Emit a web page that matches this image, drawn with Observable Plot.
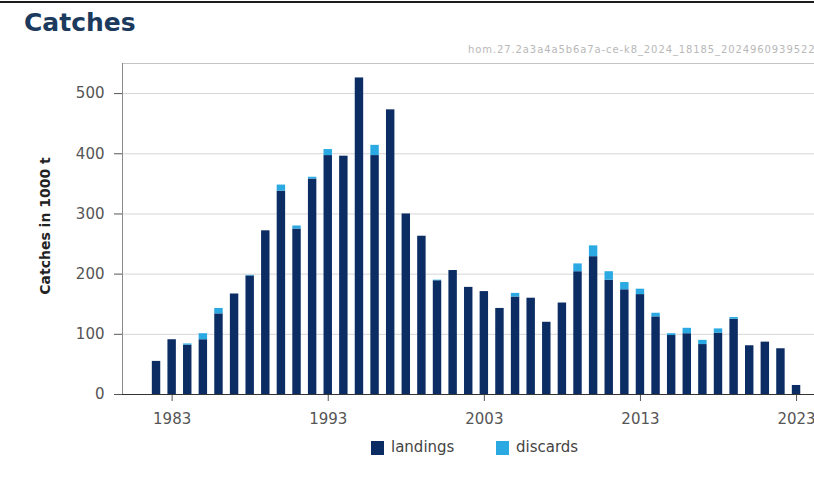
<!DOCTYPE html>
<html>
<head>
<meta charset="utf-8">
<script src="https://cdn.jsdelivr.net/npm/d3@7"></script>
<script src="https://cdn.jsdelivr.net/npm/@observablehq/plot@0.6"></script>
<style>
  html, body { margin: 0; padding: 0; background: #fff; width: 814px; height: 481px; overflow: hidden; }
  #wrap { position: relative; width: 814px; height: 481px; font-family: "DejaVu Sans", sans-serif; }
  .topline { position: absolute; left: 0; top: 1px; width: 814px; height: 2px; background: #1c1c1c; }
  .title { position: absolute; left: 24px; top: 8px; font: bold 25px "DejaVu Sans", sans-serif; color: #1b3a5e; }
  .meta { position: absolute; left: 468px; top: 44px; font-size: 10px; letter-spacing: 0.9px; color: #b8b8b8; white-space: nowrap; }
  #chart { position: absolute; left: 0; top: 0; }
  .ylab { position: absolute; left: 45px; top: 226px; transform: translate(-50%, -50%) rotate(-90deg);
          font: bold 14px "DejaVu Sans", sans-serif; color: #222; white-space: nowrap; }
  .legend { position: absolute; top: 441px; left: 0; font-size: 15px; color: #444; }
  .legend .sw { position: absolute; top: 0; width: 13px; height: 14px; }
  .legend .lt { position: absolute; top: -3px; white-space: nowrap; }
</style>
</head>
<body>
<div id="wrap">
  <div class="topline"></div>
  <div class="title">Catches</div>
  <div class="meta">hom.27.2a3a4a5b6a7a-ce-k8_2024_18185_2024960939522</div>
  <div id="chart"></div>
  <div class="ylab">Catches in 1000 t</div>
  <div class="legend" id="legend"></div>
</div>
<script>
// Annual catches (thousand tonnes), split into landings and discards
const years = [1982, 1983, 1984, 1985, 1986, 1987, 1988, 1989, 1990, 1991,
               1992, 1993, 1994, 1995, 1996, 1997, 1998, 1999, 2000, 2001,
               2002, 2003, 2004, 2005, 2006, 2007, 2008, 2009, 2010, 2011,
               2012, 2013, 2014, 2015, 2016, 2017, 2018, 2019, 2020, 2021,
               2022, 2023];
const landings = [55, 91, 82, 91, 134, 167, 197, 272, 338, 275,
                  358, 397, 396, 526, 397, 473, 300, 263, 189, 206,
                  178, 171, 143, 162, 160, 120, 152, 204, 229, 190,
                  174, 166, 129, 98, 101, 83, 102, 125, 81, 87,
                  76, 15];
const discards = [0, 0, 2, 10, 9, 0, 1, 0, 10, 5,
                  3, 10, 0, 0, 17, 0, 0, 0, 1, 0,
                  0, 0, 0, 6, 0, 0, 0, 13, 18, 14,
                  12, 9, 6, 3, 9, 7, 7, 3, 0, 0,
                  0, 0];
const series = ["landings", "discards"];
const xTicks = [1983, 1993, 2003, 2013, 2023];
const yTicks = [0, 100, 200, 300, 400, 500];

const colors = { landings: "#0b2d63", discards: "#2aa9e3" };

const rows = years.map((year, i) => ({ year, landings: landings[i], discards: discards[i] }));

const xDomain = [years[0] - 2.18, years[years.length - 1] + 1.15];
const yDomain = [0, 550];
const half = 0.27; // half bar width, in years

const chart = Plot.plot({
  width: 814,
  height: 481,
  marginTop: 63,
  marginBottom: 87,
  marginLeft: 122,
  marginRight: 0,
  style: { fontFamily: "DejaVu Sans, sans-serif", fontSize: "15px", color: "#555", background: "transparent" },
  x: { domain: xDomain, ticks: xTicks, tickFormat: d => String(d), tickSize: 7, tickPadding: 12, label: null },
  y: { domain: yDomain, ticks: yTicks, tickSize: 8, tickPadding: 10, label: null },
  marks: [
    Plot.ruleY(yTicks.slice(1), { stroke: "#d6d6d6" }),
    Plot.ruleY([yDomain[1]], { stroke: "#c4c4c4" }),
    Plot.ruleX([xDomain[0]], { stroke: "#8a8a8a" }),
    Plot.rectY(rows, {
      x1: d => d.year - half, x2: d => d.year + half,
      y1: 0, y2: "landings", fill: colors.landings
    }),
    Plot.rectY(rows.filter(d => d.discards > 0), {
      x1: d => d.year - half, x2: d => d.year + half,
      y1: "landings", y2: d => d.landings + d.discards, fill: colors.discards
    }),
    Plot.ruleY([0], { stroke: "#333" })
  ]
});
document.getElementById("chart").appendChild(chart);

// Legend below the chart
const legend = document.getElementById("legend");
const legendPos = { landings: 371, discards: 496 };
series.forEach(s => {
  const sw = document.createElement("div");
  sw.className = "sw";
  sw.style.left = legendPos[s] + "px";
  sw.style.background = colors[s];
  legend.appendChild(sw);
  const t = document.createElement("div");
  t.className = "lt";
  t.style.left = (legendPos[s] + 20) + "px";
  t.textContent = s;
  legend.appendChild(t);
});
</script>
</body>
</html>
